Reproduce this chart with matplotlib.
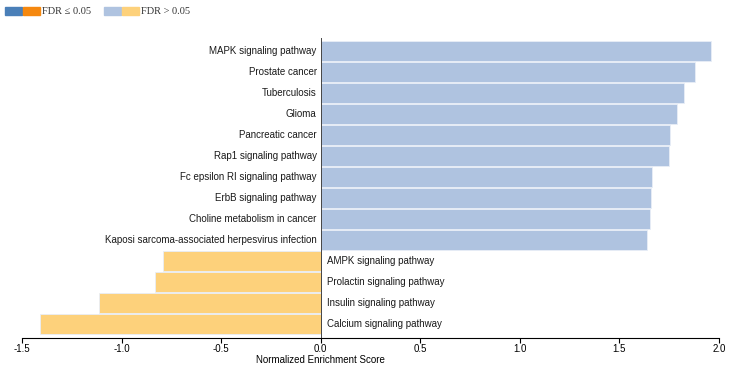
import matplotlib.pyplot as plt
from matplotlib.patches import Rectangle

# pathways and normalized enrichment scores (top to bottom)
pathways = [
    "MAPK signaling pathway",
    "Prostate cancer",
    "Tuberculosis",
    "Glioma",
    "Pancreatic cancer",
    "Rap1 signaling pathway",
    "Fc epsilon RI signaling pathway",
    "ErbB signaling pathway",
    "Choline metabolism in cancer",
    "Kaposi sarcoma-associated herpesvirus infection",
    "AMPK signaling pathway",
    "Prolactin signaling pathway",
    "Insulin signaling pathway",
    "Calcium signaling pathway",
]
nes = [1.96, 1.88, 1.825, 1.79, 1.755, 1.75, 1.665, 1.66, 1.655, 1.64,
       -0.79, -0.83, -1.115, -1.41]
xticks = [-1.5, -1.0, -0.5, 0.0, 0.5, 1.0, 1.5, 2.0]

pos_light = "#afc3e0"
neg_light = "#fdd17b"
pos_dark = "#4a7fb8"
neg_dark = "#f5880f"

plt.rcParams['font.family'] = ['Liberation Sans', 'DejaVu Sans']

fig = plt.figure(figsize=(7.32, 3.68), dpi=100)
ax = fig.add_axes([22 / 732, 1 - 338 / 368, 697 / 732, 300 / 368])

y = list(range(len(pathways)))
colors = [pos_light if v > 0 else neg_light for v in nes]
ax.barh(y, nes, height=0.96, color=colors, edgecolor="#e8eef7", linewidth=0.6)

for i, (name, v) in enumerate(zip(pathways, nes)):
    if v > 0:
        ax.text(-0.02, i, name, ha="right", va="center", fontsize=7, color="#1a1a1a")
    else:
        ax.text(0.03, i, name, ha="left", va="center", fontsize=7, color="#1a1a1a")

ax.axvline(0, color="#444444", linewidth=0.7)
ax.set_ylim(13.67, -0.62)
ax.set_xlim(-1.5, 2.0)
ax.set_xticks(xticks)
ax.set_xticklabels(["%.1f" % t for t in xticks], fontsize=7)
ax.set_yticks([])
for s in ["left", "right", "top"]:
    ax.spines[s].set_visible(False)
ax.spines["bottom"].set_linewidth(0.8)
ax.tick_params(axis="x", length=3.5, width=0.8, pad=0.5)
ax.set_xlabel("Normalized Enrichment Score", fontsize=7)
# the axis title sits under the zero line, not under the middle of the axis
ax.xaxis.set_label_coords(1.5 / 3.5, -0.056)
ax.xaxis.label.set_va("top")

# legend drawn by hand at the top left
def leg_patch(x0, c):
    fig.patches.append(Rectangle((x0 / 732, 1 - 15 / 368), 17 / 732, 8 / 368,
                                 transform=fig.transFigure, color=c))

leg_patch(5, pos_dark)
leg_patch(23, neg_dark)
fig.text(42 / 732, 1 - 11 / 368, "FDR \u2264 0.05", family=["Liberation Serif", "DejaVu Serif"],
         fontsize=7.5, va="center", color="#333333")
leg_patch(104, pos_light)
leg_patch(122, neg_light)
fig.text(141 / 732, 1 - 11 / 368, "FDR > 0.05", family=["Liberation Serif", "DejaVu Serif"],
         fontsize=7.5, va="center", color="#333333")

fig.savefig("out.png", dpi=100)
